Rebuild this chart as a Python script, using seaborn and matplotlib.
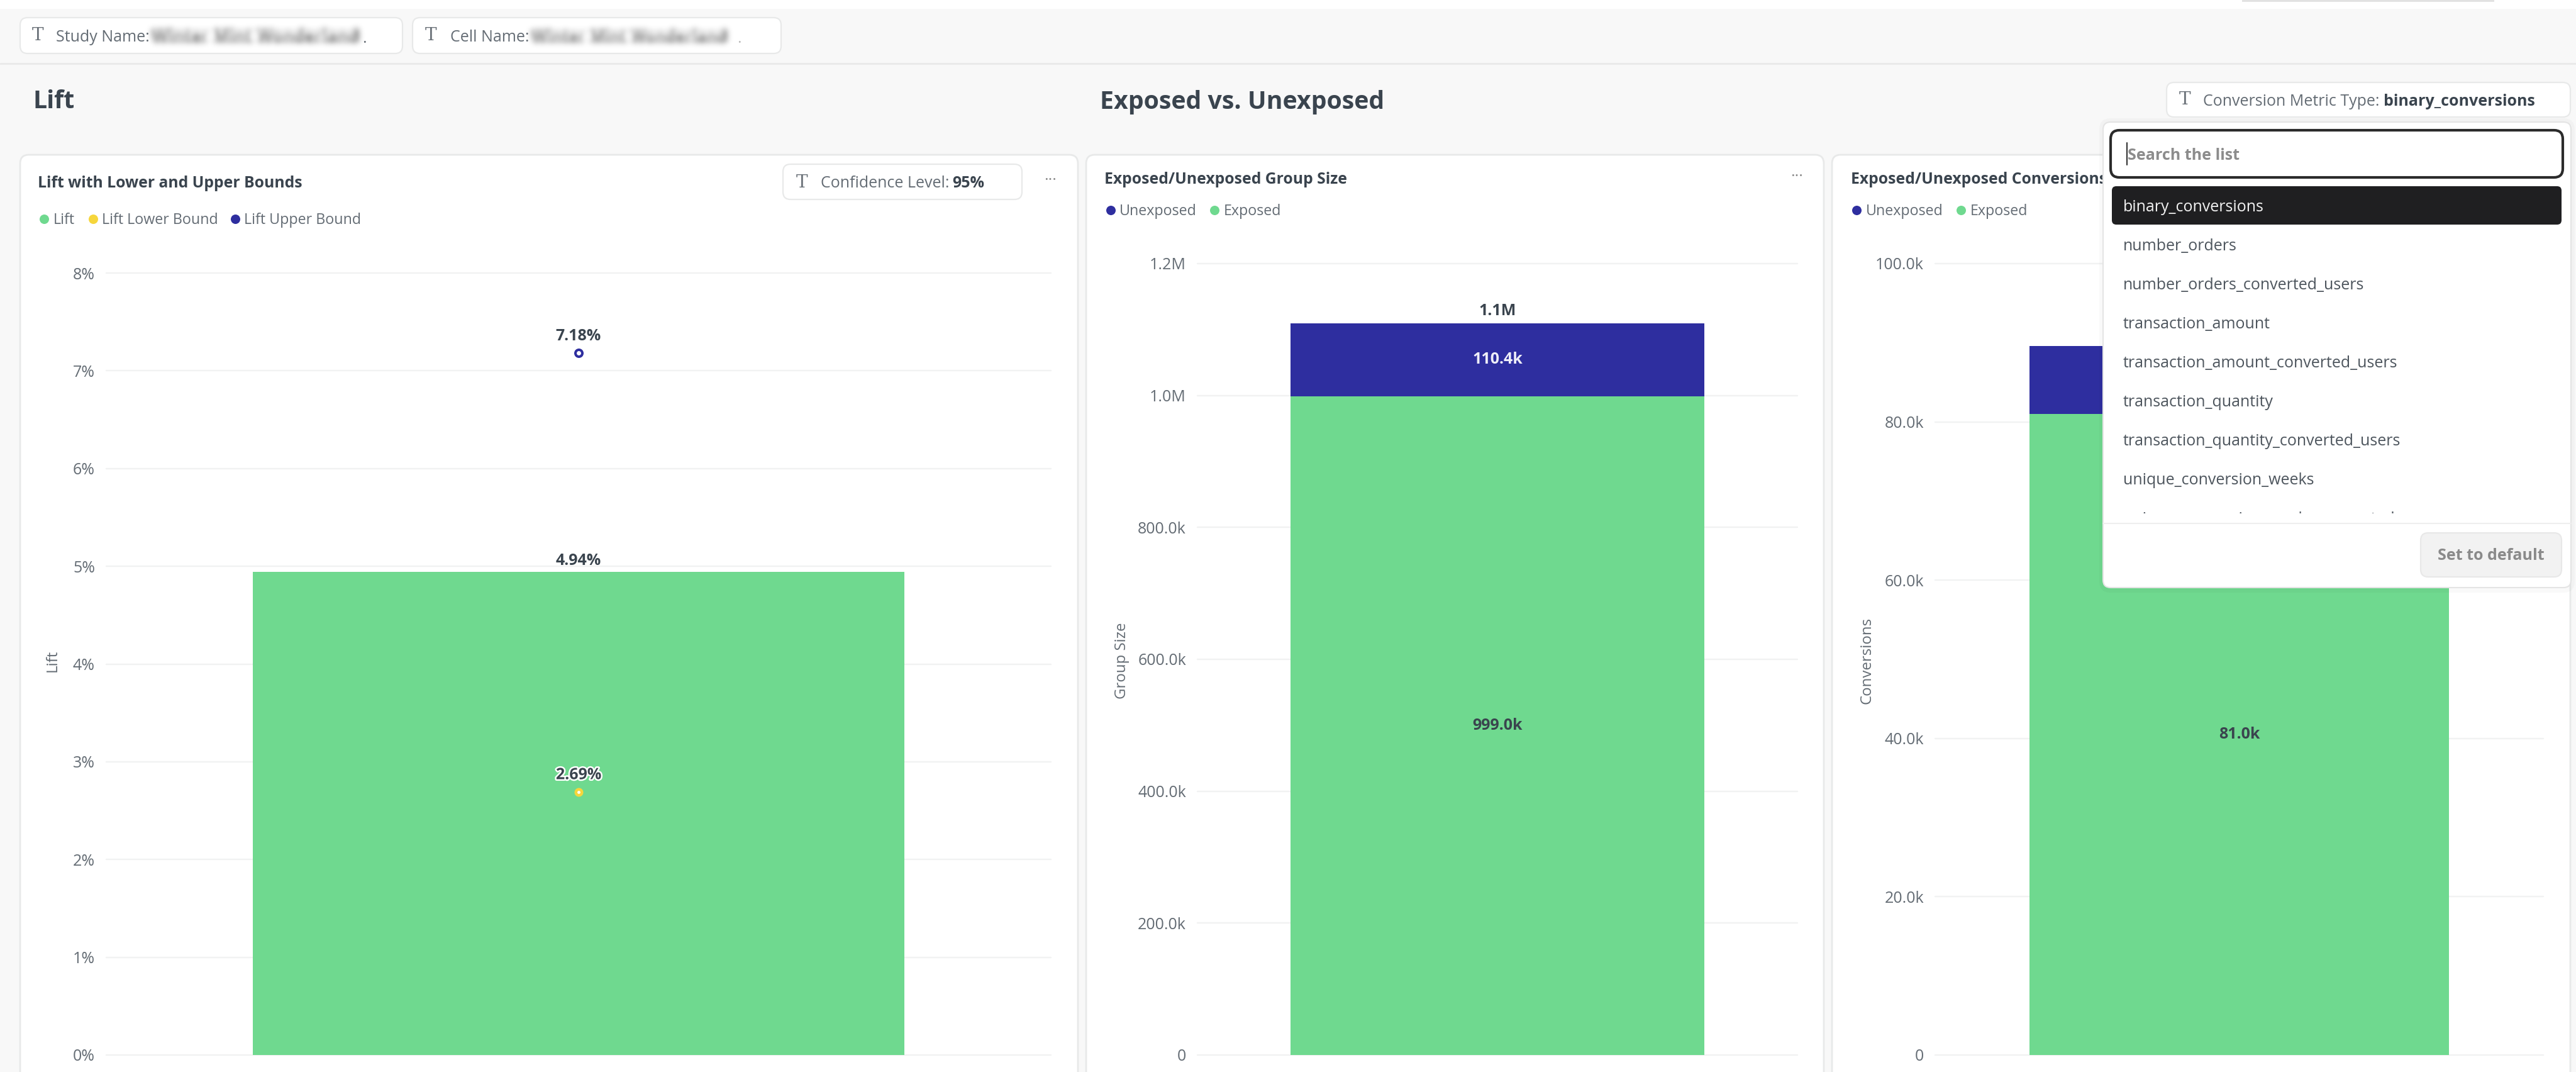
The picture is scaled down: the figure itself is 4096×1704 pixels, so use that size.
import numpy as np
import matplotlib
matplotlib.use("Agg")
import matplotlib.pyplot as plt
from matplotlib.patches import FancyBboxPatch, Rectangle
import matplotlib.patheffects as pe
import seaborn as sns

# ---------- data ----------
lift_category = ["Lift"]
lift_value = [4.94]
lift_lower = [2.69]
lift_upper = [7.18]
lift_ticks = [0, 1, 2, 3, 4, 5, 6, 7, 8]
lift_ticklabels = ["0%", "1%", "2%", "3%", "4%", "5%", "6%", "7%", "8%"]

group_category = ["Group"]
group_exposed = [999000]
group_unexposed = [110400]
group_ticks = [0, 200000, 400000, 600000, 800000, 1000000, 1200000]
group_ticklabels = ["0", "200.0k", "400.0k", "600.0k", "800.0k", "1.0M", "1.2M"]

conv_category = ["Conversions"]
conv_exposed = [81000]
conv_unexposed = [8550]
conv_ticks = [0, 20000, 40000, 60000, 80000, 100000]
conv_ticklabels = ["0", "20.0k", "40.0k", "60.0k", "80.0k", "100.0k"]

metric_options = ["binary_conversions", "number_orders", "number_orders_converted_users",
                  "transaction_amount", "transaction_amount_converted_users",
                  "transaction_quantity", "transaction_quantity_converted_users",
                  "unique_conversion_weeks", "unique_conversion_weeks_converted_users"]

# ---------- style ----------
GREEN, NAVY, YELLOW = "#6FD98F", "#2E2E9F", "#F6D63C"
DARK, MID, GRID, BG, EDGE = "#3A444E", "#646C74", "#F1F2F2", "#F8F8F8", "#E8E9E9"
W, H = 4096, 1704
sns.set_theme(style="white")
plt.rcParams["font.family"] = ["Open Sans", "DejaVu Sans"]


def fs(px):
    return px * 0.72


fig = plt.figure(figsize=(W / 100, H / 100), dpi=100, facecolor="white")


def pixel_axes(z):
    a = fig.add_axes([0, 0, 1, 1], zorder=z)
    a.set_xlim(0, W)
    a.set_ylim(H, 0)
    a.axis("off")
    a.patch.set_alpha(0)
    return a


back = pixel_axes(0)
over = pixel_axes(5)


def box(a, x0, y0, x1, y1, fc="white", ec=EDGE, r=12, lw=1.6, z=1, alpha=None):
    p = FancyBboxPatch((x0, y0), x1 - x0, y1 - y0, boxstyle=f"round,pad=0,rounding_size={r}",
                       fc=fc, ec=ec, lw=lw, zorder=z, alpha=alpha)
    a.add_patch(p)
    return p


def txt(a, x, y, s, size=25, color=MID, weight="normal", ha="left", va="center", z=3, **k):
    return a.text(x, y + 2, s, fontsize=fs(size), color=color, fontweight=weight, ha=ha, va=va, zorder=z, **k)


def blur_filter(sigma):
    radius = int(3 * sigma)
    kernel = np.exp(-0.5 * (np.arange(-radius, radius + 1) / sigma) ** 2)
    kernel /= kernel.sum()

    def f(img, dpi):
        pad = radius * 2
        out = np.zeros((img.shape[0] + 2 * pad, img.shape[1] + 2 * pad, 4), dtype=float)
        out[pad:-pad, pad:-pad] = img
        for ax_i in (0, 1):
            out = np.apply_along_axis(lambda m: np.convolve(m, kernel, mode="same"), ax_i, out)
        return out, -pad, -pad
    return f


def t_icon(a, x, y):
    a.text(x, y, "T", fontsize=fs(28), family="DejaVu Serif", color="#6A7178", ha="center", va="center", zorder=3)


# ---------- page background ----------
back.add_patch(Rectangle((0, 14), W, H, fc=BG, ec="none", zorder=0))
back.add_patch(Rectangle((3565, 0), 401, 2.5, fc="#E2E2E2", ec="none", zorder=1))
back.plot([0, W], [100.5, 100.5], color="#E9E9E9", lw=2, zorder=1)

# filter chips
box(back, 32, 28, 640, 85)
box(back, 656, 28, 1242, 85)
t_icon(back, 60, 57)
txt(back, 89, 57, "Study Name:")
b1 = txt(back, 242, 57, "Winter Mint Wonderland", size=26.5, color="#4A4A4A", weight="bold")
b1.set_agg_filter(blur_filter(5))
txt(back, 576, 60, ".", size=25)
t_icon(back, 685, 57)
txt(back, 716, 57, "Cell Name:")
b2 = txt(back, 846, 57, "Winter Mint Wonderland", size=25, color="#4A4A4A", weight="bold")
b2.set_agg_filter(blur_filter(5))
txt(back, 1172, 60, ".", size=25, color="#BBBBBB")

# section titles
txt(back, 52, 160, "Lift", size=39.2, color=DARK, weight="bold")
txt(back, 1749, 160, "Exposed vs. Unexposed", size=39.2, color=DARK, weight="bold")

# panels (running off the bottom of the page)
for x0, x1 in [(32, 1714), (1727, 2900), (2913, 4087)]:
    box(back, x0, 246, x1, H + 40, r=14, lw=2)

# panel titles
txt(back, 60, 290, "Lift with Lower and Upper Bounds", size=24.8, color=DARK, weight="bold")
txt(back, 1756, 283, "Exposed/Unexposed Group Size", size=24.8, color=DARK, weight="bold")
txt(back, 2943, 283, "Exposed/Unexposed Conversions", size=24.8, color=DARK, weight="bold")

# legends
for x, c, lx, s, y in [(70, GREEN, 85, "Lift", 348), (147.5, YELLOW, 162, "Lift Lower Bound", 348),
                       (374, NAVY, 388, "Lift Upper Bound", 348),
                       (1766, NAVY, 1780, "Unexposed", 334), (1931, GREEN, 1946, "Exposed", 334),
                       (2952, NAVY, 2967, "Unexposed", 334), (3118, GREEN, 3133, "Exposed", 334)]:
    back.scatter([x], [y], s=fs(15) ** 2, color=c, zorder=3, linewidths=0)
    txt(back, lx, y, s, size=23.3)

# confidence chip
box(back, 1245, 261, 1625, 317)
t_icon(back, 1275, 290)
txt(back, 1305, 290, "Confidence Level:")
txt(back, 1514, 290, "95%", color=DARK, weight="bold")
txt(back, 1670, 285, "···", size=25, color="#888888", ha="center")
txt(back, 2857, 278, "···", size=25, color="#888888", ha="center")

# ---------- charts ----------


def chart(left, right, top, bottom):
    a = fig.add_axes([left / W, 1 - bottom / H, (right - left) / W, (bottom - top) / H], zorder=2)
    a.patch.set_alpha(0)
    a.set_axisbelow(True)
    return a


def finish(a, ylim, ticks, ticklabels, ylabel, label_px):
    a.set_xlim(-0.5, 0.5)
    a.set_ylim(*ylim)
    a.set_yticks(ticks, ticklabels)
    a.set_xticks([])
    a.set_xlabel("")
    a.set_ylabel("")
    a.grid(axis="y", color=GRID, lw=1.7, clip_on=False)
    for gl in a.get_ygridlines():
        gl.set_clip_on(False)
    a.tick_params(axis="y", length=0, pad=13, labelsize=fs(25), labelcolor=MID)
    sns.despine(ax=a, left=True, bottom=True)
    back.text(label_px, 1050, ylabel, rotation=90, fontsize=fs(24), color=MID, ha="center", va="center", zorder=3)


LABEL = dict(family=["Open Sans"], fontsize=fs(25), fontweight="bold", color=DARK, ha="center", va="center")

# Lift panel
ax1 = chart(169, 1671, 434, 1677)
sns.barplot(x=lift_category, y=lift_value, color=GREEN, saturation=1, width=0.69, ax=ax1, errorbar=None, linewidth=0)
sns.stripplot(x=lift_category, y=lift_upper, color="white", edgecolor=NAVY, linewidth=fs(4), size=fs(11),
              jitter=False, ax=ax1, zorder=4, clip_on=False)
sns.stripplot(x=lift_category, y=lift_lower, color="white", edgecolor=YELLOW, linewidth=fs(4.5), size=fs(9.5),
              jitter=False, ax=ax1, zorder=4)
finish(ax1, (0, 8), lift_ticks, lift_ticklabels, "Lift", 84)
ax1.annotate(f"{lift_value[0]:.2f}%", (0, lift_value[0]), xytext=(0, fs(18)), textcoords="offset points", **LABEL)
ax1.annotate(f"{lift_upper[0]:.2f}%", (0, lift_upper[0]), xytext=(0, fs(27)), textcoords="offset points", **LABEL)
ax1.annotate(f"{lift_lower[0]:.2f}%", (0, lift_lower[0]), xytext=(0, fs(27)), textcoords="offset points",
             path_effects=[pe.withStroke(linewidth=fs(5), foreground="white")], zorder=6, **LABEL)


def stacked(a, cat, exposed, unexposed):
    sns.barplot(x=cat, y=exposed, color=GREEN, saturation=1, width=0.69, ax=a, errorbar=None, linewidth=0)
    sns.barplot(x=cat, y=unexposed, bottom=exposed, color=NAVY, saturation=1, width=0.69, ax=a, errorbar=None,
                linewidth=0)


# Group size panel
ax2 = chart(1904, 2858, 419, 1677)
stacked(ax2, group_category, group_exposed, group_unexposed)
finish(ax2, (0, 1200000), group_ticks, group_ticklabels, "Group Size", 1784)
ax2.annotate("999.0k", (0, group_exposed[0] / 2), **LABEL)
ax2.annotate("110.4k", (0, group_exposed[0] + group_unexposed[0] / 2), **dict(LABEL, color="#EEEEF8"))
ax2.annotate("1.1M", (0, group_exposed[0] + group_unexposed[0]), xytext=(0, fs(19)), textcoords="offset points",
             **LABEL)

# Conversions panel: its upper labels lie under the open dropdown, so only the exposed one shows
ax3 = chart(3077, 4044, 419, 1677)
stacked(ax3, conv_category, conv_exposed, conv_unexposed)
finish(ax3, (0, 100000), conv_ticks, conv_ticklabels, "Conversions", 2969)
ax3.annotate("81.0k", (0, conv_exposed[0] / 2), **LABEL)

# ---------- dropdown overlay ----------
box(over, 3445, 131, 4087, 186, z=1)
t_icon(over, 3474, 159)
txt(over, 3503, 159, "Conversion Metric Type:")
txt(over, 3790, 159, "binary_conversions", color=DARK, weight="bold")

box(over, 3338, 188, 4094, 942, fc="#000000", ec="none", r=18, alpha=0.025, z=1)
box(over, 3344, 194, 4088, 934, ec="#E4E4E4", lw=1.5, r=12, z=2)
box(over, 3356, 207, 4075, 282, ec="#2B2B2B", lw=3, r=14, z=3)
over.plot([3382, 3382], [227, 262], color="#333333", lw=1.5, zorder=4)
txt(over, 3383, 245, "Search the list", color="#8C8C8C", weight="bold", z=4)
box(over, 3358, 296, 4073, 357, fc="#1F1F21", ec="none", r=7, z=3)

row_y = [327, 389, 451, 513, 575, 638, 699, 761, 823]
clip = Rectangle((3344, 194), 744, 622, transform=over.transData)
for i, (opt, y) in enumerate(zip(metric_options, row_y)):
    t = txt(over, 3376, y, opt, color="#F2F2F2" if i == 0 else "#4D555D", z=4)
    t.set_clip_on(True)
    t.set_clip_path(clip)
over.plot([3344, 4088], [832, 832], color="#EEEEEE", lw=1.5, zorder=3)
box(over, 3849, 847, 4073, 917, fc="#F2F2F2", ec="#E8E8E8", r=12, z=3)
txt(over, 3961, 881, "Set to default", color="#8A8A8A", weight="bold", ha="center", z=4)

fig.savefig("out.png", dpi=100, facecolor="white")
